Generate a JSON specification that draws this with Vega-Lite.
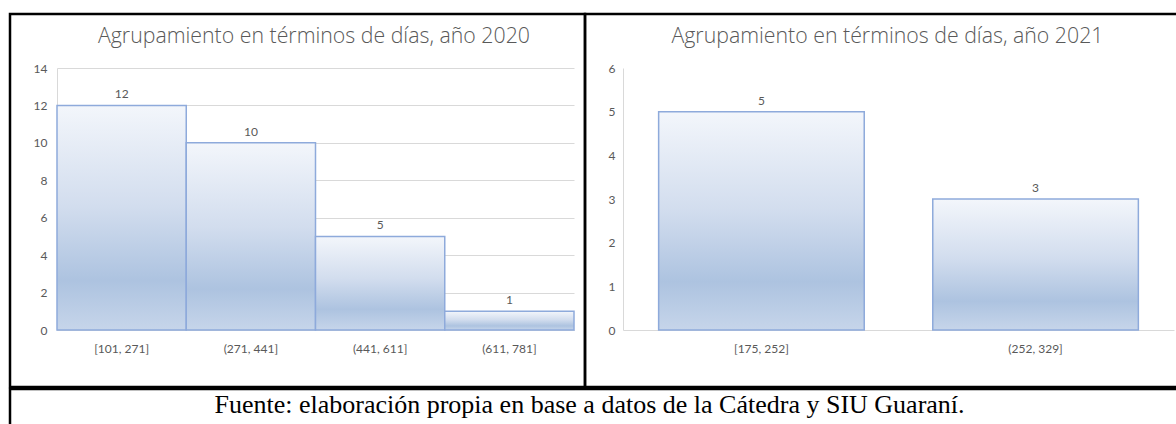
{
  "$schema": "https://vega.github.io/schema/vega-lite/v6.json",
  "padding": {"left": 8, "top": 12, "right": 0, "bottom": 0},
  "background": "white",
  "config": {
    "view": {"stroke": "black", "strokeWidth": 2.5},
    "axis": {"labelFont": "Lato", "labelFontSize": 12, "labelColor": "#595959", "ticks": false, "title": null, "domainColor": "#d9d9d9", "gridColor": "#d9d9d9"},
    "title": {"font": "Open Sans", "fontSize": 21.3, "fontWeight": 300, "color": "#595959", "anchor": "middle", "baseline": "middle"}
  },
  "datasets": {
    "d2020": [
      {"rango": "[101, 271]", "frecuencia": 12},
      {"rango": "(271, 441]", "frecuencia": 10},
      {"rango": "(441, 611]", "frecuencia": 5},
      {"rango": "(611, 781]", "frecuencia": 1}
    ],
    "d2021": [
      {"rango": "[175, 252]", "frecuencia": 5},
      {"rango": "(252, 329]", "frecuencia": 3}
    ],
    "fuente": [
      {"texto": "Fuente: elaboración propia en base a datos de la Cátedra y SIU Guaraní."}
    ]
  },
  "vconcat": [
    {
      "hconcat": [
        {
          "width": 575,
          "height": 373,
          "title": {"text": "Agrupamiento en términos de días, año 2020", "offset": -33, "dx": 16.5},
          "data": {"name": "d2020"},
          "encoding": {
            "x": {"field": "rango", "type": "nominal", "sort": null,
                  "scale": {"range": [47, 564], "paddingInner": 0, "paddingOuter": 0},
                  "axis": {"orient": "bottom", "offset": -57, "labelPadding": 13, "labelAngle": 0, "domain": true}},
            "y": {"field": "frecuencia", "type": "quantitative",
                  "scale": {"domain": [0, 14], "range": [316, 54], "nice": false},
                  "axis": {"orient": "left", "offset": -47, "labelPadding": 10, "values": [0, 2, 4, 6, 8, 10, 12, 14], "grid": true, "domain": true}}
          },
          "layer": [
            {"mark": {"type": "bar", "fill": {"gradient": "linear", "x1": 0, "y1": 0, "x2": 0, "y2": 1,
                      "stops": [{"offset": 0, "color": "#f3f6fb"}, {"offset": 0.45, "color": "#d2ddee"}, {"offset": 0.78, "color": "#adc3e0"}, {"offset": 1, "color": "#c6d5ea"}]},
                      "stroke": "#8eaadb", "strokeWidth": 1.5}},
            {"mark": {"type": "text", "baseline": "bottom", "dy": -4, "font": "Lato", "fontSize": 12, "color": "#595959"},
             "encoding": {"text": {"field": "frecuencia", "type": "quantitative"}}}
          ]
        },
        {
          "width": 600,
          "height": 373,
          "title": {"text": "Agrupamiento en términos de días, año 2021", "offset": -33, "dx": 2.5},
          "data": {"name": "d2021"},
          "encoding": {
            "x": {"field": "rango", "type": "nominal", "sort": null,
                  "scale": {"range": [38, 589], "paddingInner": 0.25, "paddingOuter": 0.13},
                  "axis": {"orient": "bottom", "offset": -57, "labelPadding": 13, "labelAngle": 0, "domain": true}},
            "y": {"field": "frecuencia", "type": "quantitative",
                  "scale": {"domain": [0, 6], "range": [316, 54], "nice": false},
                  "axis": {"orient": "left", "offset": -38, "labelPadding": 8, "values": [0, 1, 2, 3, 4, 5, 6], "grid": false, "domain": true}}
          },
          "layer": [
            {"mark": {"type": "bar", "fill": {"gradient": "linear", "x1": 0, "y1": 0, "x2": 0, "y2": 1,
                      "stops": [{"offset": 0, "color": "#f3f6fb"}, {"offset": 0.45, "color": "#d2ddee"}, {"offset": 0.78, "color": "#adc3e0"}, {"offset": 1, "color": "#c6d5ea"}]},
                      "stroke": "#8eaadb", "strokeWidth": 1.5}},
            {"mark": {"type": "text", "baseline": "bottom", "dy": -4, "font": "Lato", "fontSize": 12, "color": "#595959"},
             "encoding": {"text": {"field": "frecuencia", "type": "quantitative"}}}
          ]
        }
      ],
      "spacing": 0,
      "bounds": "flush"
    },
    {
      "width": 1175,
      "height": 40,
      "view": {"stroke": "black", "strokeWidth": 2.5, "fill": null},
      "data": {"name": "fuente"},
      "mark": {"type": "text", "font": "Liberation Serif", "fontSize": 26, "color": "black", "baseline": "middle", "align": "center", "dx": -8, "dy": -4},
      "encoding": {
        "text": {"field": "texto", "type": "nominal"},
        "y": {"field": "texto", "type": "nominal", "axis": null}
      }
    }
  ],
  "spacing": -7.5
}
